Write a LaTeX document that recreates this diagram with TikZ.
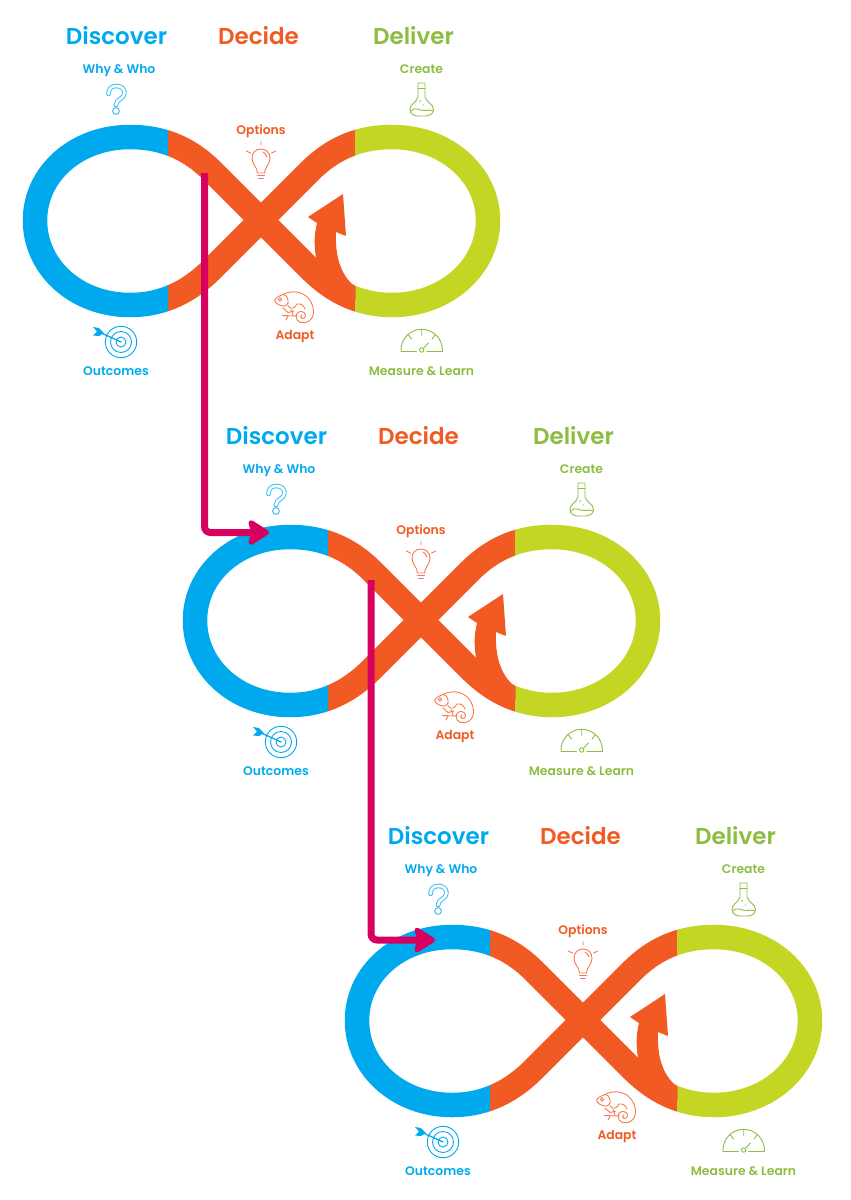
\documentclass[tikz,border=0pt]{standalone}
\usepackage{fontspec}
\setmainfont{Poppins}[BoldFont={Poppins SemiBold}]
\usetikzlibrary{arrows.meta}
\definecolor{cblue}{HTML}{00A9EE}
\definecolor{corange}{HTML}{F15A22}
\definecolor{clime}{HTML}{C4D624}
\definecolor{cgreen}{HTML}{8CBD42}
\definecolor{cmag}{HTML}{D8005F}
\newcommand\loopline[1]{\draw[#1] (261,220) -- (212,171) .. controls (191,150) and (165,137) .. (130,137) .. controls (76,137) and (35,174) .. (35,220.5) .. controls (35,267) and (76,305) .. (130,305) .. controls (165,305) and (191,290) .. (212,269) -- (261,220) -- (310,171) .. controls (331,150) and (357,137) .. (392,137) .. controls (446,137) and (488,174) .. (488,220.5) .. controls (488,267) and (446,305) .. (392,305) .. controls (357,305) and (331,290) .. (310,269) -- cycle;}
\tikzset{
  band/.style={line width=24.5pt,line join=miter},
  bigt/.style={font=\fontsize{23}{27}\selectfont\bfseries,inner sep=0pt,anchor=base},
  smallt/.style={font=\fontsize{12.4}{14}\selectfont\bfseries,inner sep=0pt,anchor=base},
  icon/.style={line width=.9pt,line cap=round,line join=round},
  link/.style={cmag,line width=7pt,rounded corners=6pt,-{Stealth[length=24pt,width=30pt,inset=4pt,round]}},
  loopfig/.pic={
    \begin{scope}\clip (167.5,100) rectangle (355.5,340);\loopline{band,corange}\end{scope}
    \begin{scope}\clip (0,100) rectangle (168,340);\loopline{band,cblue}\end{scope}
    \begin{scope}\clip (355,100) rectangle (520,340);\loopline{band,clime}\end{scope}
    \fill[corange] (316,258) .. controls (314,245) and (314,235) .. (317,223) -- (308,217) -- (343,194) -- (346,236) -- (336,232) .. controls (335,255) and (340,275) .. (355.5,287) -- (355.5,300) -- (325,285) -- cycle;
    \node[bigt,text=cblue] (-discover) at (116.5,44.5) {Discover};
    \node[bigt,text=corange] (-decide) at (258.5,44.5) {Decide};
    \node[bigt,text=cgreen] (-deliver) at (413.5,44.5) {Deliver};
    \node[smallt,text=cblue] (-why) at (119,73.5) {Why \& Who};
    \node[smallt,text=cgreen] (-create) at (421.5,73.5) {Create};
    \node[smallt,text=corange] (-options) at (261,134.5) {Options};
    \node[smallt,text=corange] (-adapt) at (295,339) {Adapt};
    \node[smallt,text=cblue] (-outcomes) at (116,375.5) {Outcomes};
    \node[smallt,text=cgreen] (-measure) at (421.5,375.5) {Measure \& Learn};
    % question mark
    \draw[icon,cblue!75,line width=1pt,double=white,double distance=2.6pt] (108.5,94) .. controls (108.5,88) and (112,86) .. (116.5,86) .. controls (121.5,86) and (124.5,89) .. (124.5,93) .. controls (124.5,99) and (116,99) .. (116,105);
    \draw[icon,cblue!75,line width=1pt,fill=white] (116,111) circle (3.4);
    % bulb
    \begin{scope}[icon,corange!80]
      \draw (257.5,173) .. controls (257.5,167) and (252,165) .. (252,158) .. controls (252,152.5) and (256,149) .. (261,149) .. controls (266,149) and (270,152.5) .. (270,158) .. controls (270,165) and (264.5,167) .. (264.5,173) -- cycle;
      \draw (257.5,175.5) -- (264.5,175.5) (258.5,178) -- (263.5,178);
      \draw (261,141) -- (261,145) (246.5,151) -- (250.5,153) (275.5,151) -- (271.5,153);
      \draw (263,152) .. controls (265,153) and (266.5,155) .. (267,157);
    \end{scope}
    % target
    \begin{scope}[icon,cblue]
      \draw (121,342) circle (15.7) (121,342) circle (10.5) (121,342) circle (5);
      \draw[line width=1.3pt] (97,331) -- (121,342);
      \fill (93,327) -- (99,328) -- (104,333) -- (99,336) -- (93,335.5) -- (97,331.5) -- cycle;
    \end{scope}
    % gauge
    \begin{scope}[icon,cgreen]
      \draw (416.5,351.5) -- (401,351.5) -- (401,350) arc[start angle=180,end angle=360,radius=20.7] -- (442.4,351.5) -- (426.5,351.5);
      \draw (421.7,350) circle (2.2);
      \draw (423.3,348.4) -- (428.5,343);
      \draw (421.7,329.5) -- (421.7,335.5) (408,334.5) -- (411.5,339) (435.4,334.5) -- (432,339);
    \end{scope}
    % flask
    \begin{scope}[icon,cgreen]
      \draw (418,83) -- (425,83) -- (425,97) .. controls (427,103) and (433.5,104) .. (433.5,109.5) .. controls (433.5,114) and (429,116) .. (425,116) -- (418,116) .. controls (414,116) and (410,114) .. (410,109.5) .. controls (410,104) and (416,103) .. (418,97) -- cycle;
      \draw (418,88) -- (425,88);
      \draw (411,111) .. controls (414,106) and (420,111) .. (425,110.5) .. controls (428,110) and (431,109.5) .. (433,111);
      \fill (420,101) circle (.8) (423.5,105) circle (.7);
    \end{scope}
    % chameleon
    \begin{scope}[icon,corange!80]
      \draw (283,294.5) .. controls (279,296) and (275,298) .. (274.7,300.5) .. controls (275,303) and (279,305.5) .. (283,306) .. controls (286,306.5) and (289,304) .. (288,300) .. controls (287,296) and (285,294) .. (283,294.5);
      \draw (280,299.5) circle (1.7);
      \draw (283,294.5) .. controls (291,290) and (303,291) .. (309,299) .. controls (315,307) and (315,317) .. (309,321) .. controls (303,325) and (296,322) .. (296,316.5) .. controls (296,312) and (301,310) .. (304,312.5) .. controls (307,315) and (305,319) .. (302,318.5) .. controls (300,318) and (300,315.5) .. (302,315);
      \draw (288,306) .. controls (292,310) and (295,308) .. (297,304) .. controls (301,303) and (304,306) .. (305,309);
      \draw (283,308) -- (288,312.5) -- (294,311) (291,309) -- (293,315);
      \draw (282,315.5) -- (298,316) (288,316) -- (286,320);
    \end{scope}
  }
}
\begin{document}
\begin{tikzpicture}[x=1pt,y=-1pt]
\useasboundingbox (0,0) rectangle (851,1200);
\pic (a) at (0,0) {loopfig};
\pic (b) at (160,400) {loopfig};
\pic (c) at (322,800) {loopfig};
\coordinate (m1s) at (204.5,173);
\coordinate (m1e) at (269,532.5);
\coordinate (m2s) at (371,580);
\coordinate (m2e) at (435,940);
\draw[link] (m1s) |- (m1e);
\draw[link] (m2s) |- (m2e);
\end{tikzpicture}
\end{document}
